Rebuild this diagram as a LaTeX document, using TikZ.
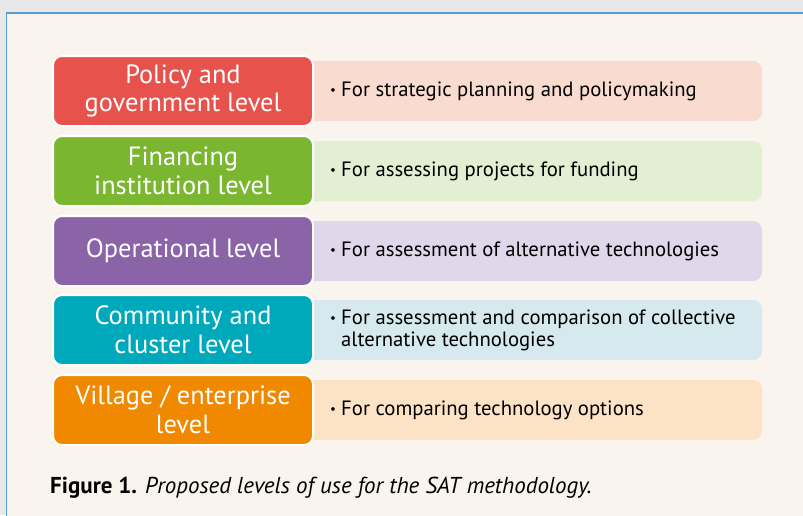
\documentclass[tikz,border=0pt]{standalone}
\usepackage{fontspec}
\setmainfont{PT Sans}
\definecolor{outergray}{HTML}{E8E8E8}
\definecolor{bgcream}{HTML}{F9F4EE}
\definecolor{frameblue}{HTML}{5B9BD5}
\definecolor{cRed}{HTML}{E8524D}
\definecolor{cGreen}{HTML}{7AB62F}
\definecolor{cPurple}{HTML}{8B64A8}
\definecolor{cTeal}{HTML}{00A8BC}
\definecolor{cOrange}{HTML}{F08800}
\definecolor{lRed}{HTML}{F9DBD0}
\definecolor{lGreen}{HTML}{E3EFD3}
\definecolor{lPurple}{HTML}{E0D8EA}
\definecolor{lTeal}{HTML}{D5E9EE}
\definecolor{lOrange}{HTML}{FCE3C6}
\newcommand{\smbul}{\makebox[11pt][l]{\raisebox{1.5pt}{\fontsize{13}{13}\selectfont •}}}
\tikzset{
  levelbox/.style={draw=white, line width=2pt, rounded corners=9pt, minimum width=260pt, minimum height=70pt, inner sep=0pt, text=white, align=center, font=\fontsize{26.4}{28.5}\selectfont},
  desctext/.style={anchor=west, align=left, text=black, inner sep=0pt, font=\fontsize{20.7}{22}\selectfont},
}
\begin{document}
\begin{tikzpicture}[x=1pt,y=-1pt]
\useasboundingbox (0,0) rectangle (803,515);
\fill[outergray] (0,0) rectangle (803,515);
\fill[bgcream] (6.7,13) rectangle (815,530);
\draw[frameblue, line width=1.5pt] (6.7,530) -- (6.7,13) -- (815,13);
% description boxes
\foreach \y/\c in {91/lRed,171/lGreen,251/lPurple,330/lTeal,410/lOrange}{
  \fill[\c, rounded corners=9pt] (290,\y-30) rectangle (762,\y+30);
}
% level boxes
\node[levelbox, fill=cRed] (l1) at (183,91) {Policy and\\government level};
\node[levelbox, fill=cGreen] (l2) at (183,171) {Financing\\institution level};
\node[levelbox, fill=cPurple] (l3) at (183,251) {Operational level};
\node[levelbox, fill=cTeal] (l4) at (183,330) {Community and\\cluster level};
\node[levelbox, fill=cOrange] (l5) at (183,410) {Village / enterprise\\level};
% texts
\node[desctext] (d1) at (330,91) {\smbul For strategic planning and policymaking};
\node[desctext] (d2) at (330,171) {\smbul For assessing projects for funding};
\node[desctext] (d3) at (330,251) {\smbul For assessment of alternative technologies};
\node[desctext] (d4) at (330,330) {\smbul For assessment and comparison of collective\\\hspace*{11pt}alternative technologies};
\node[desctext] (d5) at (330,410) {\smbul For comparing technology options};
% caption
\node[anchor=base west, inner sep=0pt, font=\fontsize{23}{26}\selectfont] (cap) at (50,493) {\textbf{Figure 1.} \textit{Proposed levels of use for the SAT methodology.}};
\end{tikzpicture}
\end{document}
